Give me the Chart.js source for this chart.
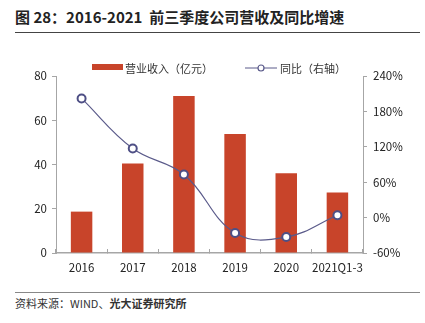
<!DOCTYPE html>
<html>
<head>
<meta charset="utf-8">
<script src="https://cdn.jsdelivr.net/npm/chart.js@4.4.1/dist/chart.umd.min.js"></script>
<style>
  body { margin: 0; background: #fff; font-family: "Noto Sans CJK SC", "Noto Sans", sans-serif; }
  #wrap { position: relative; width: 425px; height: 323px; overflow: hidden; }
  .title { position: absolute; left: 15px; top: 6px; font-size: 15px; font-weight: bold; color: #222; white-space: pre; }
  .rule { position: absolute; left: 15px; width: 405px; height: 1px; }
  .legend { position: absolute; top: 60px; left: 0; width: 425px; height: 16px; font-size: 11px; color: #333; }
  .legend span { position: absolute; top: 0; line-height: 16px; }
  .box { position: absolute; left: 92px; top: 64px; width: 31px; height: 6px; background: #C8442A; }
  .source { position: absolute; left: 15px; top: 295px; font-size: 11px; color: #333; }
  #chartBox { position: absolute; left: 0; top: 40px; width: 425px; height: 240px; }
</style>
</head>
<body>
<div id="wrap">
  <div class="title">图 28：2016-2021  前三季度公司营收及同比增速</div>
  <div class="rule" style="top:32px;background:#444;"></div>
  <div id="chartBox"><canvas id="chart" width="425" height="240"></canvas></div>
  <div class="box"></div>
  <div class="legend">
    <span style="left:125px;">营业收入（亿元）</span>
    <svg style="position:absolute;left:245px;top:3px" width="32" height="10">
      <line x1="0" y1="5" x2="32" y2="5" stroke="#5A5A8A" stroke-width="1"/>
      <circle cx="16" cy="5" r="3" fill="#fff" stroke="#5A5A8A" stroke-width="1.2"/>
    </svg>
    <span style="left:280px;">同比（右轴）</span>
  </div>
  <div class="rule" style="top:292px;background:#888;"></div>
  <div class="source">资料来源：WIND、<b>光大证券研究所</b></div>
</div>
<script>
const categories = ['2016', '2017', '2018', '2019', '2020', '2021Q1-3'];
const revenue = [18.7, 40.5, 71, 53.8, 36, 27.4];      // 营业收入（亿元）
const yoyGrowth = [202, 117, 73, -26, -33, 4];         // 同比 %
const leftTicks = [0, 20, 40, 60, 80];
const rightTicks = [-60, 0, 60, 120, 180, 240];

const axisColor = '#A6A6A6';
const tickFont = { family: '"Noto Sans CJK SC", "Noto Sans", sans-serif', size: 11.5 };

const ctx = document.getElementById('chart').getContext('2d');
new Chart(ctx, {
  data: {
    labels: categories,
    datasets: [
      {
        type: 'line',
        label: '同比（右轴）',
        data: yoyGrowth,
        yAxisID: 'y1',
        borderColor: '#5A5A8A',
        borderWidth: 1.2,
        tension: 0.4,
        pointRadius: 4,
        pointBorderWidth: 2,
        pointBackgroundColor: '#fff',
        pointBorderColor: '#4E4F85',
        order: 0
      },
      {
        type: 'bar',
        label: '营业收入（亿元）',
        data: revenue,
        yAxisID: 'y',
        backgroundColor: '#C8442A',
        categoryPercentage: 1,
        barPercentage: 0.42,
        order: 1
      }
    ]
  },
  options: {
    responsive: false,
    animation: false,
    layout: { padding: { top: 36, left: 0, right: 0, bottom: 0 } },
    plugins: { legend: { display: false }, tooltip: { enabled: false } },
    scales: {
      x: {
        offset: true,
        grid: { display: true, drawOnChartArea: false, offset: true, tickLength: -4, color: axisColor },
        border: { color: axisColor, width: 1.5 },
        ticks: { color: '#222', font: tickFont, padding: 12, maxRotation: 0, minRotation: 0, autoSkip: false },
        afterFit: s => { s.height = 27; }
      },
      y: {
        position: 'left',
        min: 0, max: 80,
        afterBuildTicks: s => { s.ticks = leftTicks.map(v => ({ value: v })); },
        grid: { drawOnChartArea: false, tickLength: 4, color: axisColor },
        border: { color: axisColor },
        ticks: { color: '#222', font: tickFont, padding: 5 },
        afterFit: s => { s.width = 56; }
      },
      y1: {
        position: 'right',
        min: -60, max: 240,
        afterBuildTicks: s => { s.ticks = rightTicks.map(v => ({ value: v })); },
        grid: { drawOnChartArea: false, tickLength: 4, color: axisColor },
        border: { color: axisColor },
        ticks: { color: '#222', font: tickFont, padding: 6, callback: v => v + '%' },
        afterFit: s => { s.width = 62; }
      }
    }
  }
});
</script>
</body>
</html>
